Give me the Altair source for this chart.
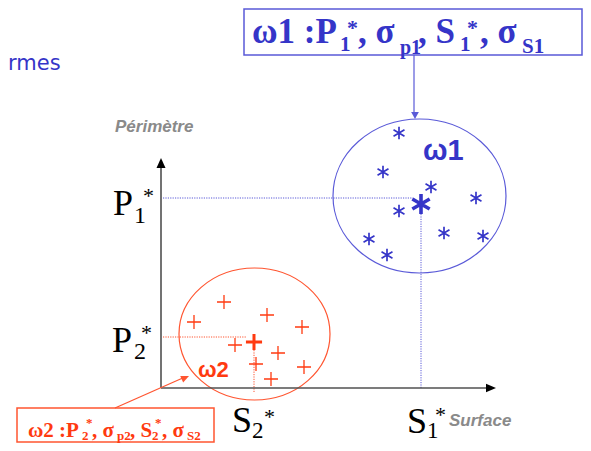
import altair as alt
import pandas as pd

# ---------------- data (diagram coordinates, origin at the axes' corner) ----------------
# class w1 : individual samples (asterisks) and its mean
blue_x = [238, 222, 270, 315, 238, 283, 322, 208, 226]
blue_y = [255, 216, 201, 190, 177, 155, 152, 149, 133]
blue_mean = (260, 184)
# class w2 : individual samples (crosses) and its mean
red_x = [63, 33, 106, 141, 74, 117, 95, 143, 110]
red_y = [86, 66, 73, 61, 43, 35, 24, 21, 9]
red_mean = (93, 46)
# class envelopes: centre x, centre y, width (px)
blue_env = (258.5, 192, 173)
red_env = (93.5, 54, 151)

BLUE = "#3535c8"
BLUE_L = "#5a5ad8"
RED = "#ff3a10"
RED_L = "#ff5530"
GRAY = "#8a8a8a"
AX = "#505050"

# ---------------- scales ----------------
XS = alt.Scale(domain=[-153, 422], nice=False, zero=False)
YS = alt.Scale(domain=[-55, 380], nice=False, zero=False)


def ex():
    return alt.X("x:Q", scale=XS, axis=None)


def ey():
    return alt.Y("y:Q", scale=YS, axis=None)


# ---------------- boxes ----------------
boxes = pd.DataFrame({
    "x": [83, -144], "x2": [421, 53], "y": [379, -20], "y2": [333, -54],
    "c": [BLUE_L, RED_L],
})
box_layer = alt.Chart(boxes).mark_rect(fill="white", strokeWidth=1.5).encode(
    x=ex(), x2="x2:Q", y=ey(), y2="y2:Q",
    stroke=alt.Stroke("c:N", scale=None),
)

# ---------------- solid lines (axes, pointers) ----------------
solid = pd.DataFrame({
    "x": [0, 0, 253, -46],
    "x2": [0, 328, 253, 24],
    "y": [0, 0, 333, -20],
    "y2": [221, 0, 276, 11],
    "c": [AX, AX, BLUE_L, RED_L],
    "w": [1.6, 1.6, 1.2, 1.2],
})
solid_layer = alt.Chart(solid).mark_rule().encode(
    x=ex(), x2="x2:Q", y=ey(), y2="y2:Q",
    color=alt.Color("c:N", scale=None),
    strokeWidth=alt.StrokeWidth("w:Q", scale=None),
)

# ---------------- dotted guide lines ----------------
dotted = pd.DataFrame({
    "x": [2, 260, 2, 93],
    "x2": [252, 260, 86, 93],
    "y": [190, 0, 51, -4],
    "y2": [190, 176, 51, 38],
    "c": [BLUE_L, BLUE_L, RED_L, RED_L],
})
dotted_layer = alt.Chart(dotted).mark_rule(strokeDash=[1.2, 1.2], strokeWidth=1).encode(
    x=ex(), x2="x2:Q", y=ey(), y2="y2:Q",
    color=alt.Color("c:N", scale=None),
)

# ---------------- envelopes (ellipses as custom symbols) ----------------
BLUE_ELL = ("M1,0C1,0.4916 0.5523,0.89 0,0.89C-0.5523,0.89 -1,0.4916 -1,0"
            "C-1,-0.4916 -0.5523,-0.89 0,-0.89C0.5523,-0.89 1,-0.4916 1,0Z")
RED_ELL = ("M1,0C1,0.4828 0.5523,0.874 0,0.874C-0.5523,0.874 -1,0.4828 -1,0"
           "C-1,-0.4828 -0.5523,-0.874 0,-0.874C0.5523,-0.874 1,-0.4828 1,0Z")
env = pd.DataFrame({
    "x": [blue_env[0], red_env[0]],
    "y": [blue_env[1], red_env[1]],
    "sz": [blue_env[2] ** 2, red_env[2] ** 2],
    "shp": [BLUE_ELL, RED_ELL],
    "c": [BLUE_L, RED_L],
})
env_layer = alt.Chart(env).mark_point(filled=False, strokeWidth=1.2, opacity=1).encode(
    x=ex(), y=ey(),
    size=alt.Size("sz:Q", scale=None),
    shape=alt.Shape("shp:N", scale=None),
    color=alt.Color("c:N", scale=None),
)

# ---------------- samples ----------------
STAR = "M0,-1L0,1M-0.866,-0.5L0.866,0.5M-0.866,0.5L0.866,-0.5"
CROSS = "M-1,0L1,0M0,-1L0,1"
samples = pd.DataFrame({
    "x": blue_x + [blue_mean[0]] + red_x + [red_mean[0]],
    "y": blue_y + [blue_mean[1]] + red_y + [red_mean[1]],
    "shp": [STAR] * 10 + [CROSS] * 10,
    "sz": [160] * 9 + [400] + [196] * 9 + [260],
    "w": [1.7] * 9 + [3.6] + [1.3] * 9 + [3.0],
    "c": [BLUE] * 10 + [RED] * 10,
})
sample_layer = alt.Chart(samples).mark_point(filled=False, opacity=1).encode(
    x=ex(), y=ey(),
    size=alt.Size("sz:Q", scale=None),
    shape=alt.Shape("shp:N", scale=None),
    strokeWidth=alt.StrokeWidth("w:Q", scale=None),
    color=alt.Color("c:N", scale=None),
)

# ---------------- arrow heads ----------------
heads = pd.DataFrame({
    "x": [0, 335, 254, 28],
    "y": [230, 0, 269, 12],
    "shp": ["M0,0L0.45,1L-0.45,1Z", "M0,0L-1,-0.42L-1,0.42Z",
            "M0,0L0.55,-1L-0.55,-1Z", "M0,0L-1,-0.45L-1,0.45Z"],
    "sz": [400, 400, 196, 256],
    "ang": [0, 0, 0, 336],
    "c": ["#000000", "#000000", BLUE_L, RED_L],
})
head_layer = alt.Chart(heads).mark_point(filled=True, opacity=1, strokeWidth=0).encode(
    x=ex(), y=ey(),
    size=alt.Size("sz:Q", scale=None),
    shape=alt.Shape("shp:N", scale=None),
    angle=alt.Angle("ang:Q", scale=None),
    fill=alt.Fill("c:N", scale=None),
)

# ---------------- texts ----------------
# box legends (bold serif)
box_t = ["ω1 :P", "1", "*", ", σ", "p1", ", S", "1", "*", ", σ", "S1",
         "ω2 :P", "2", "*", ", σ", "p2", ", S", "2", "*", ", σ", "S2"]
box_x = [91, 179, 186, 197, 239, 257, 299, 306, 319, 361,
         -133, -79, -75, -69, -44, -31, -9, -6, 1, 26]
box_y = [345, 337, 353, 345, 334, 345, 337, 353, 345, 335,
         -49, -52, -39, -49, -52, -49, -52, -39, -49, -52]
box_s = [35, 21, 22, 35, 20, 35, 21, 22, 35, 21,
         21, 13, 13, 21, 13, 21, 13, 13, 21, 13]
box_c = [BLUE] * 10 + [RED] * 10

# axis value labels (regular serif)
lab_t = ["P", "1", "*", "P", "2", "*", "S", "2", "*", "S", "1", "*"]
lab_x = [-48, -27, -18, -49, -27, -20, 71, 91, 103, 246, 266, 274]
lab_y = [173, 165, 185, 36, 29, 48, -44, -50, -36, -45, -50, -34]
lab_s = [36, 24, 22, 36, 24, 22, 36, 23, 22, 36, 23, 22]

# class names (bold sans)
cls_t = ["ω1", "ω2"]
cls_x = [262, 37]
cls_y = [228, 11]
cls_s = [29, 22]
cls_c = [BLUE, RED]

# axis titles (bold italic sans)
ttl_t = ["Surface", "Périmètre"]
ttl_x = [288, -46]
ttl_y = [-38, 256]

# fragment of a slide title
frag_t = ["rmes"]
frag_x = [-153]
frag_y = [318]


def text_layer(df, font, weight="normal", style="normal", align="left"):
    return alt.Chart(df).mark_text(
        font=font, fontWeight=weight, fontStyle=style,
        align=align, baseline="alphabetic",
    ).encode(
        x=ex(), y=ey(),
        text="t:N",
        size=alt.Size("s:Q", scale=None),
        color=alt.Color("c:N", scale=None),
    )


box_df = pd.DataFrame({"t": box_t, "x": box_x, "y": box_y, "s": box_s, "c": box_c})
lab_df = pd.DataFrame({"t": lab_t, "x": lab_x, "y": lab_y, "s": lab_s, "c": ["#000000"] * len(lab_t)})
cls_df = pd.DataFrame({"t": cls_t, "x": cls_x, "y": cls_y, "s": cls_s, "c": cls_c})
ttl_df = pd.DataFrame({"t": ttl_t, "x": ttl_x, "y": ttl_y, "s": [17, 17], "c": [GRAY, GRAY]})
frag_df = pd.DataFrame({"t": frag_t, "x": frag_x, "y": frag_y, "s": [21], "c": [BLUE]})

chart = alt.layer(
    box_layer,
    env_layer,
    dotted_layer,
    solid_layer,
    head_layer,
    sample_layer,
    text_layer(box_df, "Liberation Serif", weight="bold"),
    text_layer(lab_df, "Liberation Serif"),
    text_layer(cls_df, "Liberation Sans", weight="bold"),
    text_layer(ttl_df, "Liberation Sans", weight="bold", style="italic"),
    text_layer(frag_df, "DejaVu Sans"),
).properties(
    width=575, height=435, padding=0,
    autosize=alt.AutoSizeParams(type="none"),
).configure_view(stroke=None)

chart.save("out.html", embed_options={"renderer": "svg", "actions": False})
